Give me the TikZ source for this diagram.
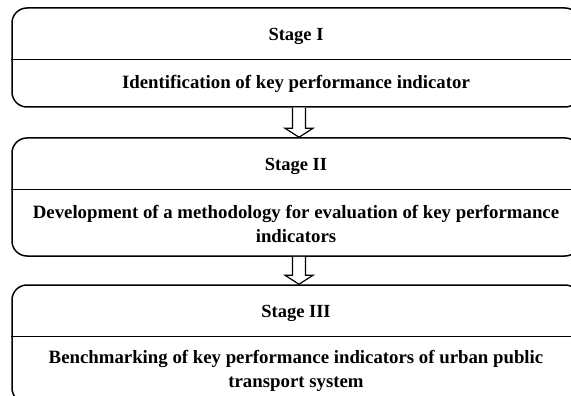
\documentclass[tikz,border=0pt]{standalone}
\usepackage{fontspec}
\setmainfont{Liberation Serif}
\usetikzlibrary{calc}

\tikzset{
  stagebox/.style={draw, line width=1.5pt, rounded corners=15pt, minimum width=568pt, inner sep=0pt},
  stagetitle/.style={font=\bfseries\fontsize{18.5}{22}\selectfont},
  stagetext/.style={font=\bfseries\fontsize{18.8}{23.5}\selectfont, align=center},
  divider/.style={line width=1.3pt},
  outarrow/.style={draw, line width=1.2pt, fill=white, line join=miter},
}

\begin{document}
\begin{tikzpicture}[x=1pt,y=-1pt]
	\useasboundingbox (0,0) rectangle (571,396);
	\clip (0,0) rectangle (571,396);

	% stages
	\node[stagebox, minimum height=99pt] (box1) at (296,57.5) {};
	\node[stagebox, minimum height=118pt] (box2) at (296,197) {};
	\node[stagebox, minimum height=118pt] (box3) at (296,344) {};

	\draw[divider] ($(box1.north west)+(0,52)$) -- ($(box1.north east)+(0,52)$);
	\draw[divider] ($(box2.north west)+(0,52)$) -- ($(box2.north east)+(0,52)$);
	\draw[divider] ($(box3.north west)+(0,52)$) -- ($(box3.north east)+(0,52)$);

	\node[stagetitle] (title1) at ($(box1.north)+(0,29.5)$) {Stage I};
	\node[stagetext] (text1) at ($(box1.south)+(0,-23.5)$) {Identification of key performance indicator};

	\node[stagetitle] (title2) at ($(box2.north)+(0,29.5)$) {Stage II};
	\node[stagetext] (text2) at ($(box2.south)+(0,-33)$) {Development of a methodology for evaluation of key performance\\indicators};

	\node[stagetitle] (title3) at ($(box3.north)+(0,29.5)$) {Stage III};
	\node[stagetext] (text3) at ($(box3.south)+(0,-33)$) {Benchmarking of key performance indicators of urban public\\transport system};

	% arrows
	\draw[outarrow] ($(box1.south)+(-3.5,0)$) -- ($(box2.north)+(-3.5,-9)$) -- ($(box2.north)+(-11,-9)$)
		-- ($(box2.north)+(3,0)$) -- ($(box2.north)+(17,-9)$) -- ($(box2.north)+(9.5,-9)$) -- ($(box1.south)+(9.5,0)$);
	\draw[outarrow] ($(box2.south)+(-3.5,0)$) -- ($(box3.north)+(-3.5,-9)$) -- ($(box3.north)+(-11,-9)$)
		-- ($(box3.north)+(3,0)$) -- ($(box3.north)+(17,-9)$) -- ($(box3.north)+(9.5,-9)$) -- ($(box2.south)+(9.5,0)$);
\end{tikzpicture}
\end{document}
